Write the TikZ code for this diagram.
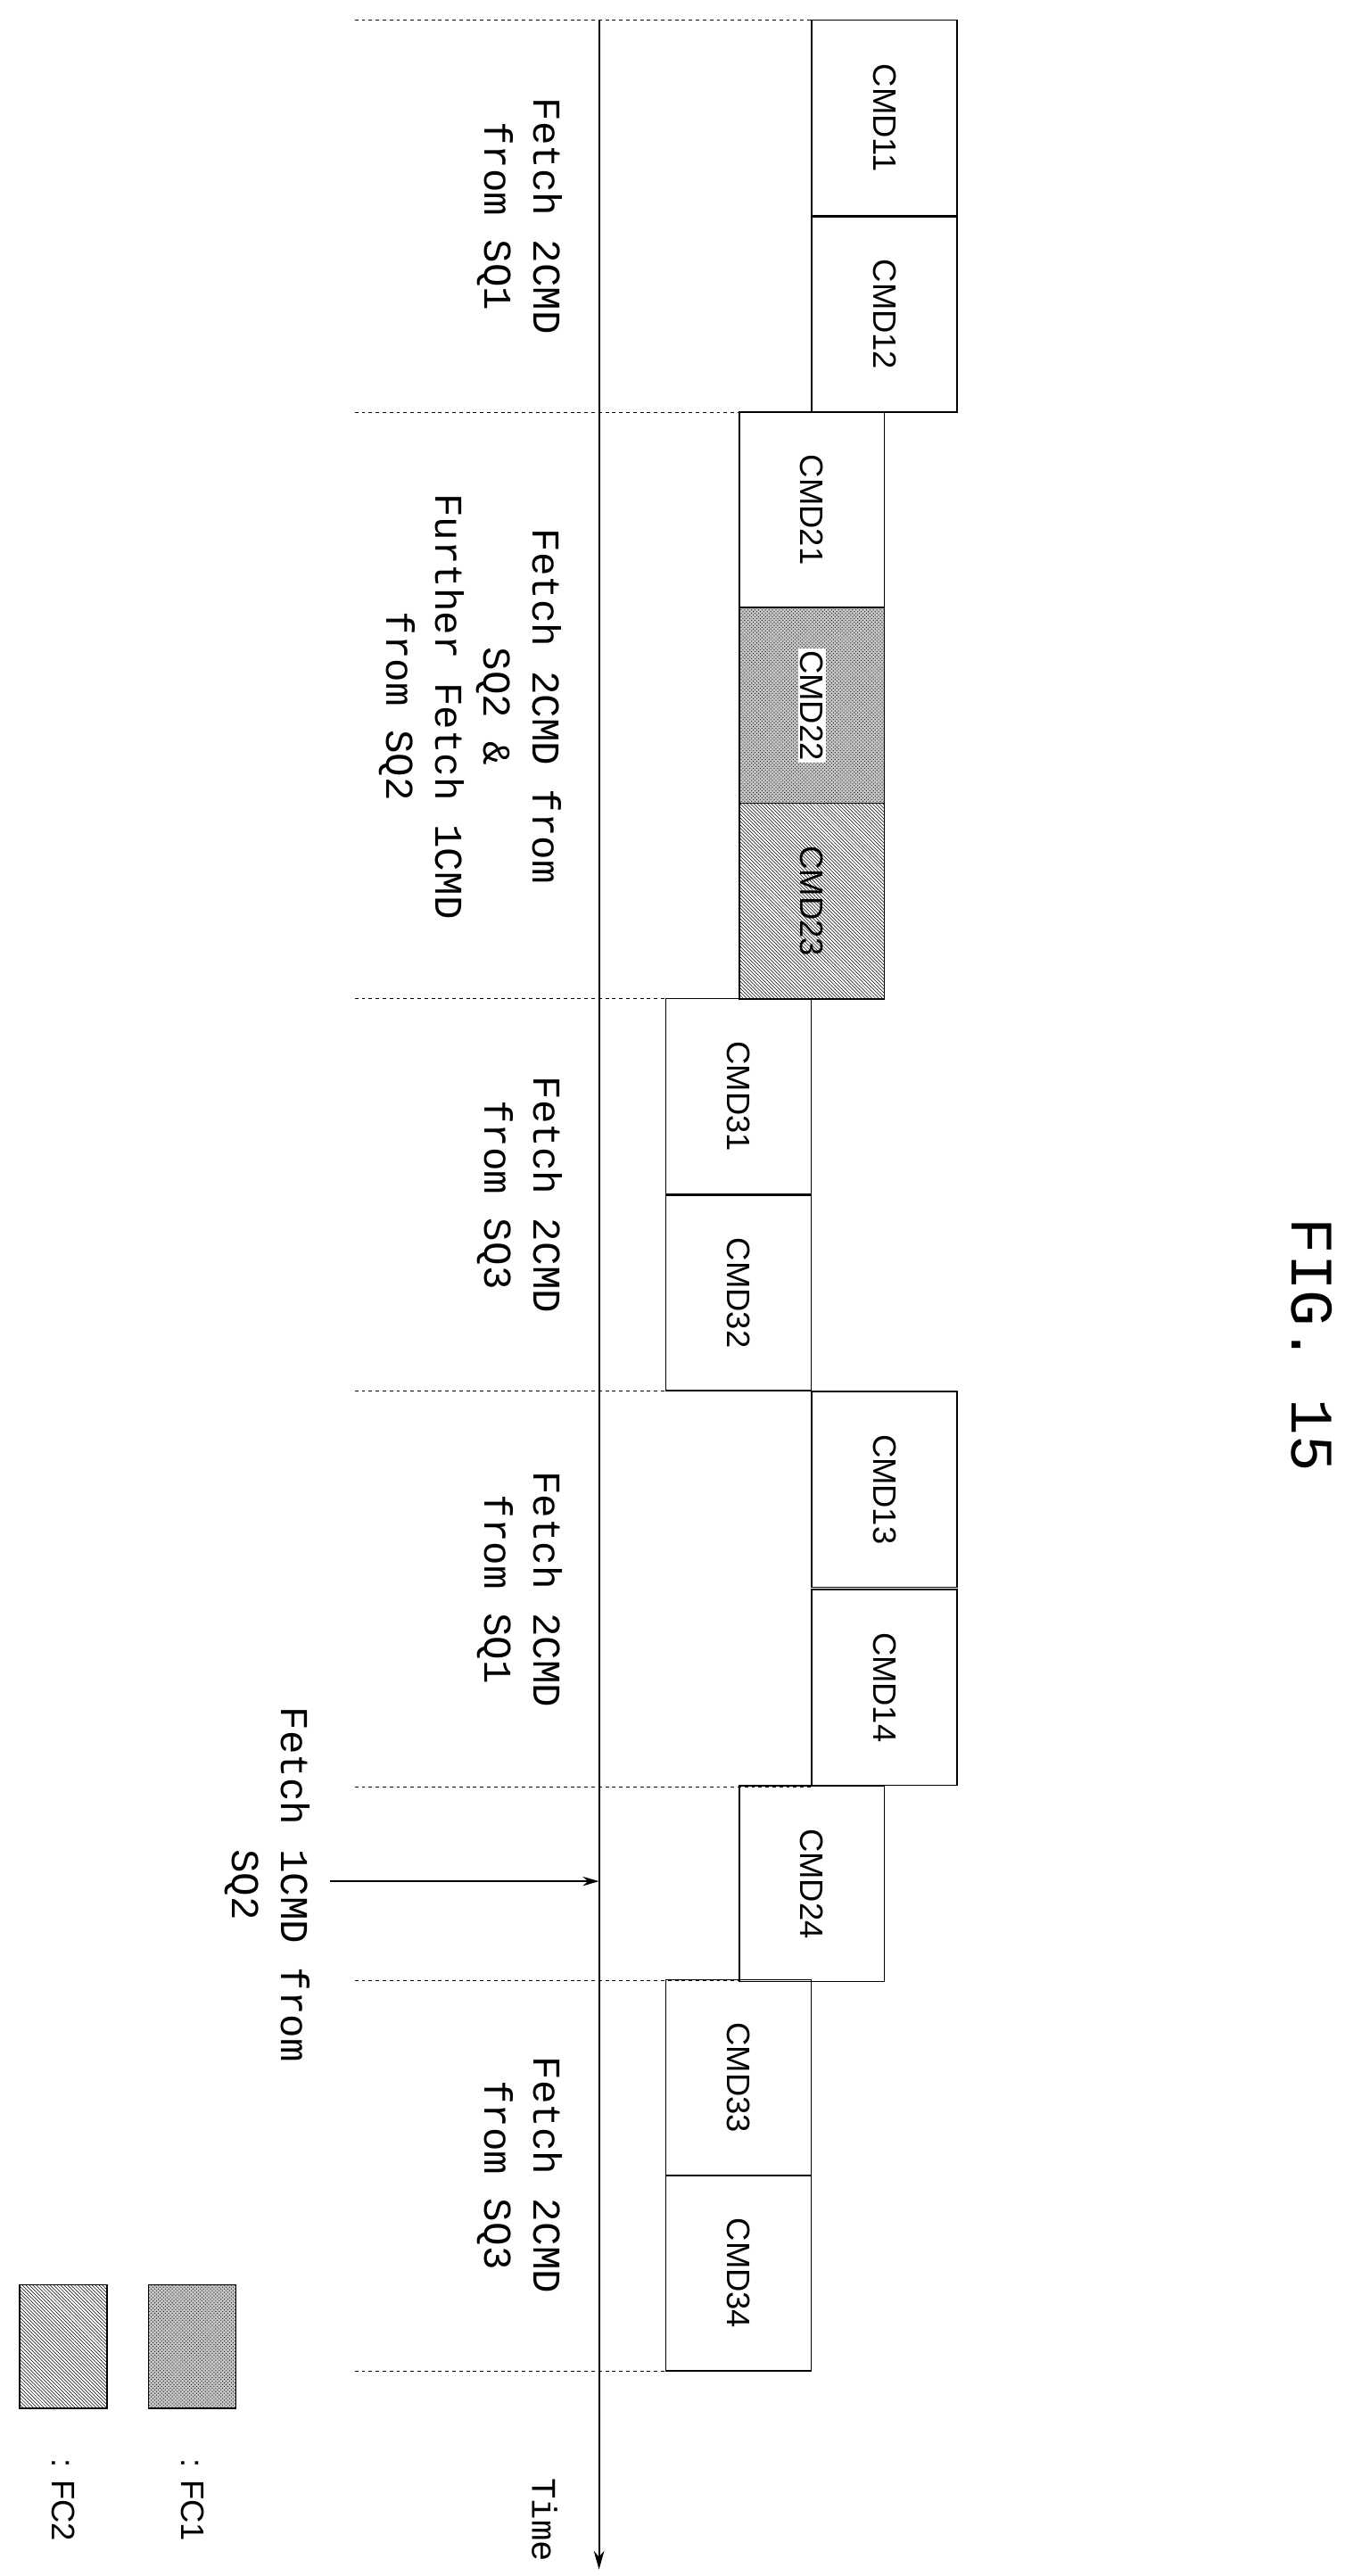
\documentclass[tikz,border=0pt]{standalone}
\usepackage{fontspec}
\setmainfont{Liberation Mono}
\setsansfont{Liberation Sans}
\usetikzlibrary{patterns,arrows.meta}
\tikzset{
  cmdbox/.style={draw, line width=1.2pt, minimum width=4.4cm, minimum height=5.93cm, inner sep=0pt, font=\sffamily\fontsize{28}{30}\selectfont},
  fcone/.style={fill=gray!45, postaction={pattern=crosshatch dots, pattern color=gray!20!black}},
  fctwo/.style={pattern=north west lines, pattern color=black},
  phase/.style={rotate=-90, align=center, font=\fontsize{34}{42}\selectfont},
  sep/.style={dashed, line width=0.8pt}
}
\newcommand{\rl}[1]{\rotatebox{-90}{#1}}
\begin{document}
\begin{tikzpicture}[x=0.05cm,y=-0.05cm]
    \useasboundingbox (0,0) rectangle (830,1561);
    % time axis
    \coordinate (ttop) at (363,12);
    \coordinate (tend) at (363,1557);
    \draw[line width=1.6pt,-{Stealth[length=16pt,width=9pt]}] (ttop) -- (tend);
    \node[rotate=-90, font=\fontsize{30}{36}\selectfont] (time) at (330,1527) {Time};
    % phase separators
    \foreach \y/\xe in {12/492,250/492,605/447,843/403,1083/492,1200/447,1437/403}
    \draw[sep] (215,\y) -- (\xe,\y);
    % command boxes
    \foreach \n/\x/\y in {11/536/71.5,12/536/190.5,21/492/309,31/447.5/664.5,32/447.5/783.5,
                         13/536/902.5,14/536/1022.5,24/492/1141.5,33/447.5/1259,34/447.5/1377.5}
    \node[cmdbox] (cmd\n) at (\x,\y) {\rl{CMD\n}};
    \node[cmdbox, fcone] (cmd22) at (492,427.5) {};
    \node[fill=white, inner sep=2pt, font=\sffamily\fontsize{28}{30}\selectfont] (lab22) at (cmd22) {\rl{CMD22}};
    \node[cmdbox, fctwo] (cmd23) at (492,546) {\rl{CMD23}};
    % fetch phases
    \node[phase] (ph1) at (315,131) {Fetch 2CMD\\from SQ1};
    \node[phase] (ph2) at (285,428) {Fetch 2CMD from\\SQ2 \&\\Further Fetch 1CMD\\from SQ2};
    \node[phase] (ph3) at (315,724) {Fetch 2CMD\\from SQ3};
    \node[phase] (ph4) at (315,963) {Fetch 2CMD\\from SQ1};
    \node[phase] (ph6) at (315,1318) {Fetch 2CMD\\from SQ3};
    % extra fetch
    \coordinate (xs) at (200,1140);
    \coordinate (xe) at (363,1140);
    \draw[line width=1.4pt,-{Stealth[length=14pt,width=8pt]}] (xs) -- (xe);
    \node[phase] (ph5) at (162,1142) {Fetch 1CMD from\\SQ2};
    % title
    \node[rotate=-90, font=\fontsize{52}{60}\selectfont] (fig) at (795,815) {FIG. 15};
    % legend
    \node[draw, line width=1.2pt, minimum width=2.65cm, minimum height=3.75cm, fcone] (leg1) at (116.5,1422) {};
    \node[draw, line width=1.2pt, minimum width=2.65cm, minimum height=3.75cm, fctwo] (leg2) at (38.5,1422) {};
    \node[rotate=-90, font=\sffamily\fontsize{28}{34}\selectfont] (l1) at (116.5,1515) {: FC1};
    \node[rotate=-90, font=\sffamily\fontsize{28}{34}\selectfont] (l2) at (38.5,1515) {: FC2};
\end{tikzpicture}
\end{document}
